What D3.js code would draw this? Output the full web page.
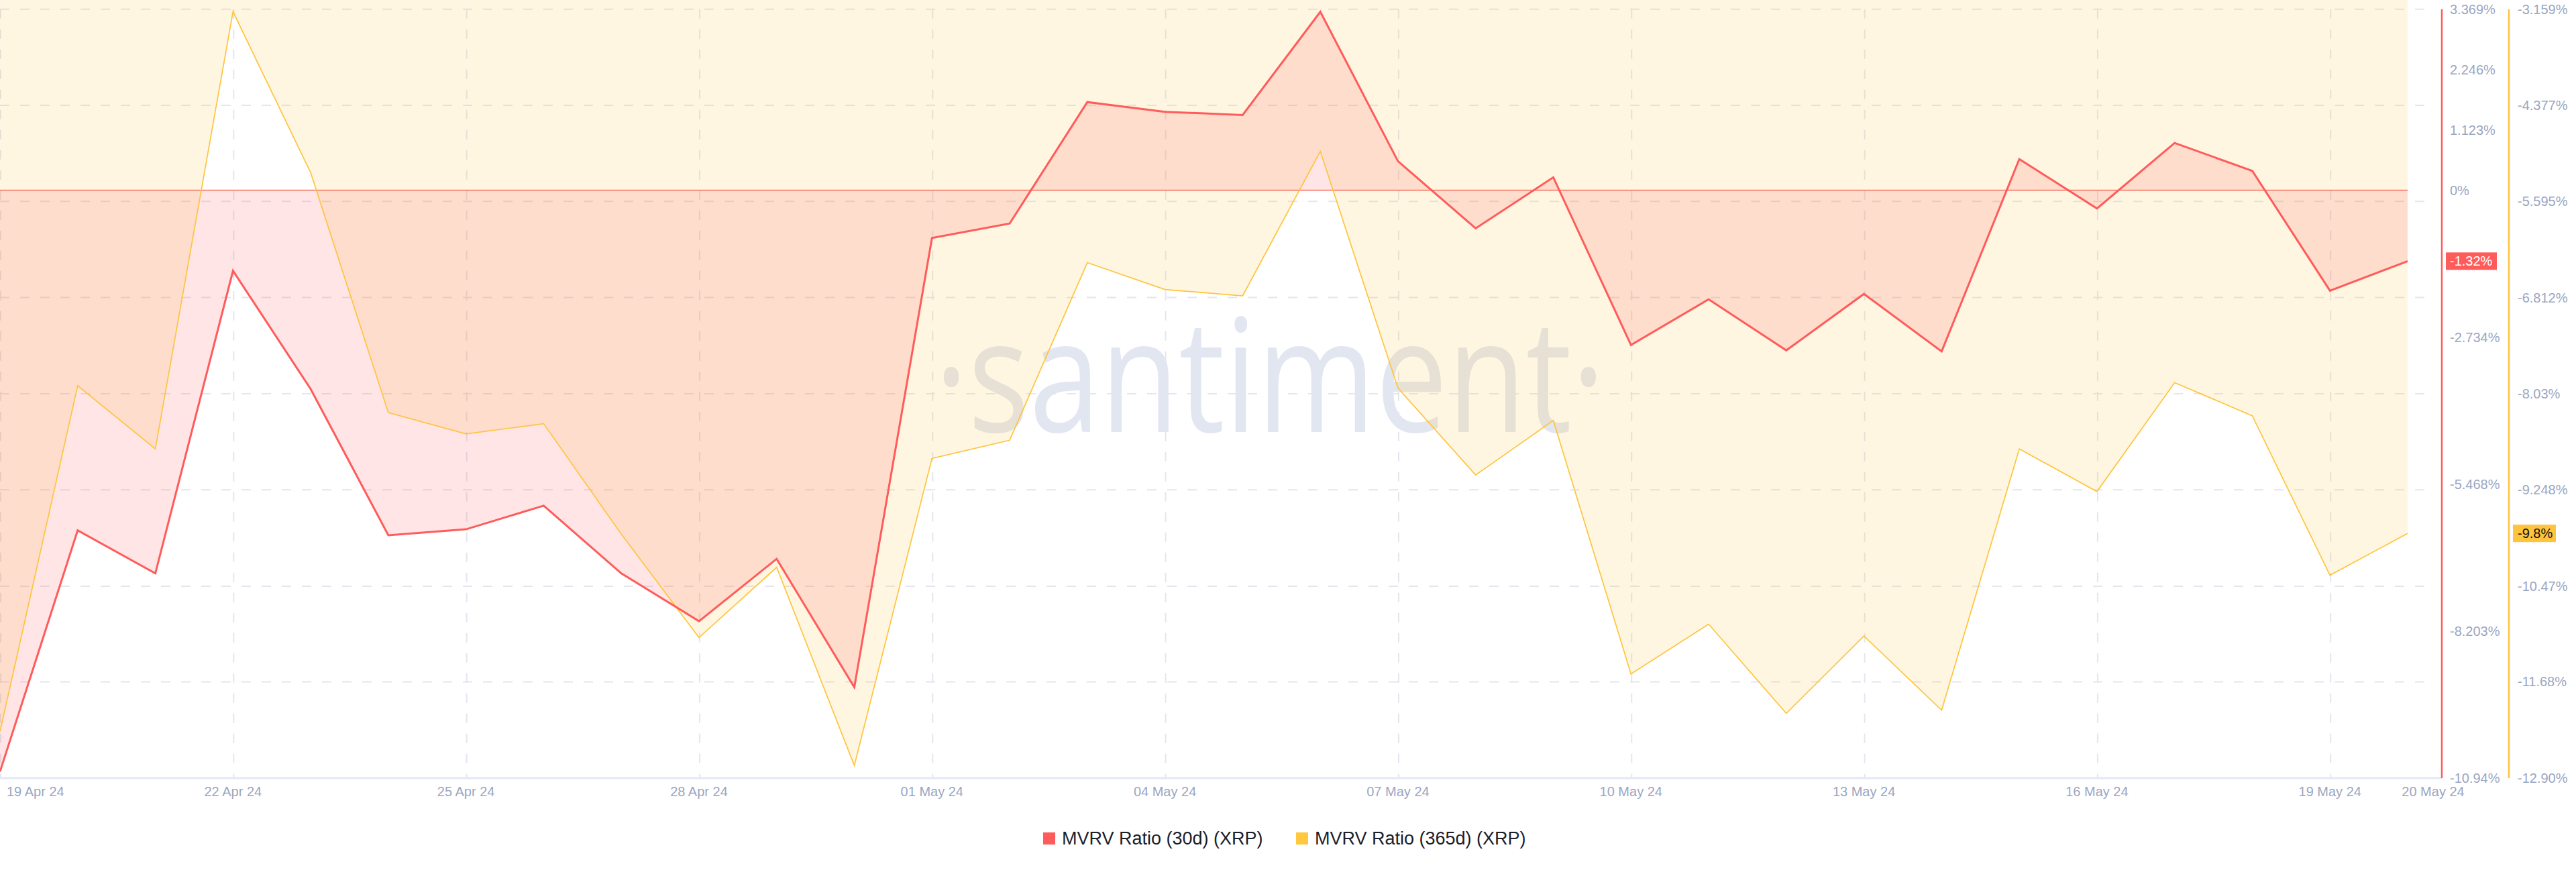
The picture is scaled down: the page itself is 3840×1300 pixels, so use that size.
<!DOCTYPE html>
<html><head><meta charset="utf-8">
<script src="https://cdn.jsdelivr.net/npm/d3@7"></script>
<style>html,body{margin:0;padding:0;background:#fff;} svg{display:block}</style>
</head><body>
<svg id="chart" width="3840" height="1300"></svg>
<script>
const dates = ["2024-04-19","2024-04-20","2024-04-21","2024-04-22","2024-04-23","2024-04-24","2024-04-25","2024-04-26","2024-04-27","2024-04-28","2024-04-29","2024-04-30","2024-05-01","2024-05-02","2024-05-03","2024-05-04","2024-05-05","2024-05-06","2024-05-07","2024-05-08","2024-05-09","2024-05-10","2024-05-11","2024-05-12","2024-05-13","2024-05-14","2024-05-15","2024-05-16","2024-05-17","2024-05-18","2024-05-19","2024-05-20"];
const mvrv30 = [-10.82,-6.33,-7.13,-1.50,-3.70,-6.42,-6.31,-5.87,-7.13,-8.02,-6.86,-9.25,-0.89,-0.62,1.64,1.46,1.40,3.32,0.54,-0.71,0.24,-2.88,-2.03,-2.98,-1.93,-3.00,0.58,-0.34,0.88,0.36,-1.87,-1.32];
const mvrv365 = [-12.31,-7.93,-8.73,-3.19,-5.23,-8.27,-8.54,-8.41,-9.81,-11.12,-10.23,-12.74,-8.85,-8.62,-6.37,-6.71,-6.79,-4.96,-7.96,-9.06,-8.37,-11.58,-10.95,-12.08,-11.10,-12.04,-8.73,-9.27,-7.89,-8.31,-10.33,-9.80];
const ticks30 = [3.369,2.246,1.123,0,-2.734,-5.468,-8.203,-10.94];
const ticks30Labels = ["3.369%","2.246%","1.123%","0%","-2.734%","-5.468%","-8.203%","-10.94%"];
const ticks365 = [-3.159,-4.377,-5.595,-6.812,-8.03,-9.248,-10.47,-11.68,-12.90];
const ticks365Labels = ["-3.159%","-4.377%","-5.595%","-6.812%","-8.03%","-9.248%","-10.47%","-11.68%","-12.90%"];
const xTickDates = ["2024-04-19","2024-04-22","2024-04-25","2024-04-28","2024-05-01","2024-05-04","2024-05-07","2024-05-10","2024-05-13","2024-05-16","2024-05-19","2024-05-20"];
const seriesNames = ["MVRV Ratio (30d) (XRP)","MVRV Ratio (365d) (XRP)"];
const lastLabels = ["-1.32%","-9.8%"];

(function(){
const parse = d3.utcParse("%Y-%m-%d");
const fmt = d3.utcFormat("%d %b %y");
const data = dates.map((d,i)=>({date:parse(d), a:mvrv30[i], b:mvrv365[i]}));

const svg = d3.select("#chart");
const plotL = 0, plotR = 3589, gridR = 3630, plotTop = 13.7, plotBottom = 1160;
const redAxisX = 3640, yelAxisX = 3740;
const RED = "#ff5b5b", YEL = "#ffc43d", TXT = "#9ba6c2";
const FONT = "Liberation Sans, Arial, sans-serif";

const x = d3.scaleUtc().domain([parse(dates[0]), parse(dates[dates.length-1])]).range([plotL, plotR]);
const yR = d3.scaleLinear().domain([-10.94, 3.369]).range([plotBottom, plotTop]);
const yY = d3.scaleLinear().domain([-12.90, -3.159]).range([plotBottom, plotTop]);

svg.append("defs").append("clipPath").attr("id","clip")
  .append("rect").attr("x",plotL).attr("y",0).attr("width",plotR-plotL).attr("height",plotBottom);

// watermark
svg.append("text").attr("x",1893).attr("y",644).attr("text-anchor","middle")
  .attr("font-family","Open Sans").attr("font-size",235).attr("font-weight",400)
  .attr("fill","#e2e6f0").attr("textLength",1000).attr("lengthAdjust","spacingAndGlyphs")
  .text("·santiment·");

// gridlines
const g = svg.append("g");
g.selectAll("line.h").data(ticks365.slice(0,-1)).join("line")
  .attr("x1",plotL).attr("x2",gridR).attr("y1",d=>yY(d)).attr("y2",d=>yY(d))
  .attr("stroke","#e3e6ef").attr("stroke-width",2).attr("stroke-dasharray","14 16");
g.selectAll("line.v").data(xTickDates.slice(0,-1)).join("line")
  .attr("x1",d=>x(parse(d))+1).attr("x2",d=>x(parse(d))+1).attr("y1",plotTop).attr("y2",plotBottom)
  .attr("stroke","#e3e6ef").attr("stroke-width",2).attr("stroke-dasharray","14 16");

// areas
const clipG = svg.append("g").attr("clip-path","url(#clip)");
clipG.append("path").datum(data)
  .attr("d", d3.area().x(d=>x(d.date)).y0(yY(0)).y1(d=>yY(d.b)))
  .attr("fill","rgba(255,193,50,0.14)");
clipG.append("path").datum(data)
  .attr("d", d3.area().x(d=>x(d.date)).y0(yR(0)).y1(d=>yR(d.a)))
  .attr("fill","rgba(255,90,90,0.155)");
clipG.append("line").attr("x1",plotL).attr("x2",plotR).attr("y1",yR(0)).attr("y2",yR(0))
  .attr("stroke","#f77f70").attr("stroke-width",1.8);
clipG.append("path").datum(data)
  .attr("d", d3.line().x(d=>x(d.date)).y(d=>yY(d.b)))
  .attr("fill","none").attr("stroke",YEL).attr("stroke-width",1.7);
clipG.append("path").datum(data)
  .attr("d", d3.line().x(d=>x(d.date)).y(d=>yR(d.a)))
  .attr("fill","none").attr("stroke",RED).attr("stroke-width",3).attr("stroke-linejoin","miter");

// x axis line
svg.append("line").attr("x1",0).attr("x2",redAxisX).attr("y1",plotBottom).attr("y2",plotBottom)
  .attr("stroke","#e3e7f4").attr("stroke-width",3);
// x labels
svg.append("g").selectAll("text").data(xTickDates).join("text")
  .attr("x",(d,i)=> i===0 ? 10 : (i===xTickDates.length-1 ? x(parse(d))+38 : x(parse(d))))
  .attr("y",1187)
  .attr("text-anchor",(d,i)=> i===0 ? "start" : "middle")
  .attr("font-family",FONT).attr("font-size",20)
  .attr("fill",TXT).text(d=>fmt(parse(d)));

// right axes
svg.append("line").attr("x1",redAxisX).attr("x2",redAxisX).attr("y1",plotTop).attr("y2",plotBottom)
  .attr("stroke",RED).attr("stroke-width",2.5);
svg.append("line").attr("x1",yelAxisX).attr("x2",yelAxisX).attr("y1",plotTop).attr("y2",plotBottom)
  .attr("stroke",YEL).attr("stroke-width",2.5);
svg.append("g").selectAll("text").data(ticks30).join("text")
  .attr("x",redAxisX+12).attr("y",d=>yR(d)).attr("dy","0.35em")
  .attr("font-family",FONT).attr("font-size",20)
  .attr("fill",TXT).text((d,i)=>ticks30Labels[i]);
svg.append("g").selectAll("text").data(ticks365).join("text")
  .attr("x",yelAxisX+13).attr("y",d=>yY(d)).attr("dy","0.35em")
  .attr("font-family",FONT).attr("font-size",20)
  .attr("fill",TXT).text((d,i)=>ticks365Labels[i]);

// last value badges
const lastA = mvrv30[mvrv30.length-1], lastB = mvrv365[mvrv365.length-1];
svg.append("rect").attr("x",redAxisX+6).attr("y",yR(lastA)-13).attr("width",76).attr("height",26).attr("fill",RED);
svg.append("text").attr("x",redAxisX+12).attr("y",yR(lastA)).attr("dy","0.35em")
  .attr("font-family",FONT).attr("font-size",20).attr("fill","#fff").text(lastLabels[0]);
svg.append("rect").attr("x",yelAxisX+6).attr("y",yY(lastB)-13).attr("width",64).attr("height",26).attr("fill",YEL);
svg.append("text").attr("x",yelAxisX+13).attr("y",yY(lastB)).attr("dy","0.35em")
  .attr("font-family",FONT).attr("font-size",20).attr("fill","#111").text(lastLabels[1]);

// legend
const legend = svg.append("g");
const legColors = [RED, "#ffc83d"];
const legX = [1555, 1932];
seriesNames.forEach((n,i)=>{
  legend.append("rect").attr("x",legX[i]).attr("y",1241).attr("width",18).attr("height",18).attr("fill",legColors[i]);
  legend.append("text").attr("x",legX[i]+28).attr("y",1250).attr("dy","0.35em")
    .attr("font-family",FONT).attr("font-size",27)
    .attr("fill","#1b1e2c").text(n);
});
})();
</script>
</body></html>
